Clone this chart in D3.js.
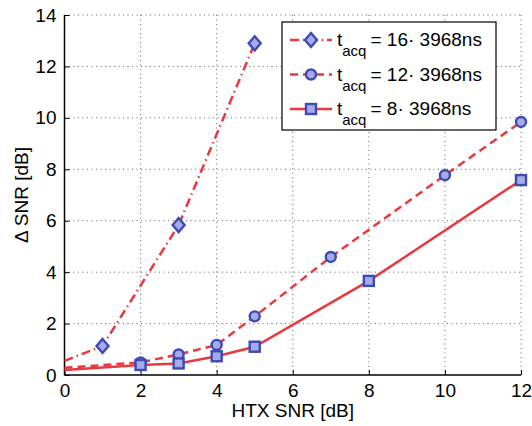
<!DOCTYPE html>
<html>
<head>
<meta charset="utf-8">
<script src="https://cdn.jsdelivr.net/npm/d3@7"></script>
<style>
  body { margin: 0; background: #fff; }
  text { font-family: "Liberation Sans", Arial, sans-serif; fill: #000; }
</style>
</head>
<body>
<div id="chart"></div>
<script>
// measured values, x = HTX SNR [dB], y = delta SNR [dB]
var x16 = [1, 3, 5];
var y16 = [1.13, 5.83, 12.9];
var y16at0 = 0.55;

var x12 = [2, 3, 4, 5, 7, 10, 12];
var y12 = [0.49, 0.8, 1.17, 2.28, 4.59, 7.77, 9.84];
var y12at0 = 0.28;

var x8 = [2, 3, 4, 5, 8, 12];
var y8 = [0.39, 0.45, 0.73, 1.1, 3.66, 7.58];
var y8at0 = 0.19;

var xTicks = [0, 2, 4, 6, 8, 10, 12];
var yTicks = [0, 2, 4, 6, 8, 10, 12, 14];
var legendLabels = ["= 16\u00b7 3968ns", "= 12\u00b7 3968ns", "= 8\u00b7 3968ns"];

var W = 532, H = 426;
var margin = { top: 15, right: 11, bottom: 51, left: 64.5 },
  width = W - margin.left - margin.right,
  height = H - margin.top - margin.bottom;

var red = "#e8393e", blue = "#3e4ab4", lightBlue = "#a4abe6";

var svg = d3.select("#chart")
  .append("svg")
  .attr("width", W)
  .attr("height", H)
  .append("g")
  .attr("transform", "translate(" + margin.left + "," + margin.top + ")");

var x = d3.scaleLinear().domain([0, 12]).range([0, width]);
var y = d3.scaleLinear().domain([0, 14]).range([height, 0]);

// dotted grid
svg.append("g")
  .selectAll("line.gx")
  .data(xTicks.slice(1))
  .join("line")
  .attr("x1", d => x(d)).attr("x2", d => x(d))
  .attr("y1", 0).attr("y2", height)
  .attr("stroke", "#666").attr("stroke-width", 1)
  .attr("stroke-dasharray", "1,3.5");
svg.append("g")
  .selectAll("line.gy")
  .data(yTicks.slice(1))
  .join("line")
  .attr("x1", 0).attr("x2", width)
  .attr("y1", d => y(d)).attr("y2", d => y(d))
  .attr("stroke", "#666").attr("stroke-width", 1)
  .attr("stroke-dasharray", "1,3.5");

// axes
var xAxis = svg.append("g")
  .attr("transform", "translate(0," + height + ")")
  .call(d3.axisBottom(x).tickValues(xTicks).tickSize(-5).tickPadding(9).tickFormat(d3.format("d")));
var yAxis = svg.append("g")
  .call(d3.axisLeft(y).tickValues(yTicks).tickSize(-5).tickPadding(8).tickFormat(d3.format("d")));
[xAxis, yAxis].forEach(function(a) {
  a.select(".domain").attr("stroke", "#000").attr("stroke-width", 1.5);
  a.selectAll(".tick line").attr("stroke", "#000");
  a.selectAll(".tick text").style("font-size", "19px").attr("fill", "#000");
});
xAxis.select(".domain").attr("d", "M0,0H" + width);
yAxis.select(".domain").attr("d", "M0," + height + "V0");

svg.append("text")
  .attr("x", width / 2)
  .attr("y", height + 42)
  .style("text-anchor", "middle")
  .style("font-size", "19px")
  .text("HTX SNR [dB]");

svg.append("text")
  .attr("transform", "rotate(-90)")
  .attr("x", -height / 2)
  .attr("y", -37)
  .style("text-anchor", "middle")
  .style("font-size", "19px")
  .text("\u0394 SNR [dB]");

var series = [
  { xs: [0].concat(x16), ys: [y16at0].concat(y16), mx: x16, my: y16, dash: "9,4,1.5,4", mark: "diamond" },
  { xs: [0].concat(x12), ys: [y12at0].concat(y12), mx: x12, my: y12, dash: "8,5", mark: "circle" },
  { xs: [0].concat(x8), ys: [y8at0].concat(y8), mx: x8, my: y8, dash: null, mark: "square" }
];

var line = d3.line()
  .x(d => x(d[0]))
  .y(d => y(d[1]));

function drawMarker(g, kind, cx, cy) {
  var m;
  if (kind === "diamond") {
    m = g.append("path").attr("d", "M0,-7L6,0L0,7L-6,0Z");
  } else if (kind === "circle") {
    m = g.append("circle").attr("r", 5);
  } else {
    m = g.append("rect").attr("x", -5).attr("y", -5).attr("width", 10).attr("height", 10);
  }
  m.attr("transform", "translate(" + cx + "," + cy + ")")
    .attr("fill", lightBlue)
    .attr("stroke", blue)
    .attr("stroke-width", 2.4);
}

series.forEach(function(s) {
  svg.append("path")
    .datum(d3.zip(s.xs, s.ys))
    .attr("fill", "none")
    .attr("stroke", red)
    .attr("stroke-width", 2.5)
    .attr("stroke-dasharray", s.dash)
    .attr("d", line);
  var g = svg.append("g");
  s.mx.forEach(function(v, i) {
    drawMarker(g, s.mark, x(v), y(s.my[i]));
  });
});

// legend
var lg = svg.append("g").attr("transform", "translate(" + (282 - margin.left) + "," + (22 - margin.top) + ")");
lg.append("rect")
  .attr("width", 214).attr("height", 108)
  .attr("fill", "#fff").attr("stroke", "#000").attr("stroke-width", 1.2);
series.forEach(function(s, i) {
  var ry = 18 + i * 34.5;
  lg.append("line")
    .attr("x1", 8).attr("x2", 50)
    .attr("y1", ry).attr("y2", ry)
    .attr("stroke", red).attr("stroke-width", 2.5)
    .attr("stroke-dasharray", s.dash);
  drawMarker(lg, s.mark, 29, ry);
  var t = lg.append("text")
    .attr("x", 55).attr("y", ry + 6)
    .style("font-size", "19px");
  t.append("tspan").text("t");
  t.append("tspan").attr("dy", 10).style("font-size", "15px").text("acq");
  t.append("tspan").attr("dy", -10).attr("dx", 4).text(legendLabels[i]);
});
</script>
</body>
</html>
